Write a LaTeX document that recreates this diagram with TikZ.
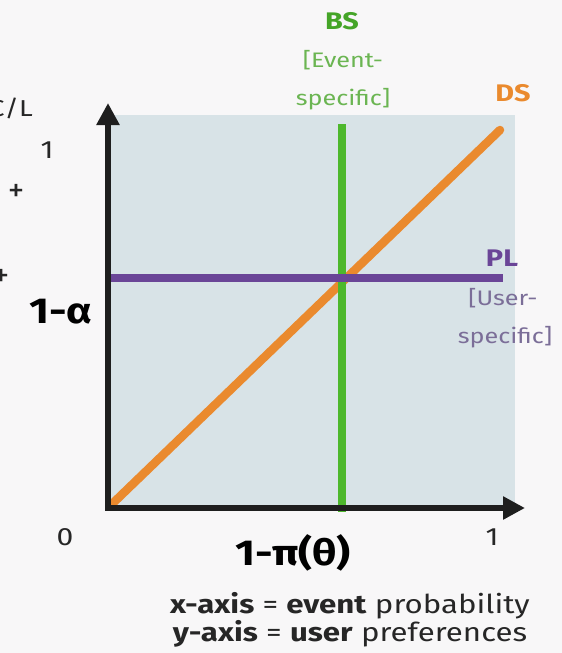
\documentclass[tikz,border=0pt]{standalone}
\usepackage{fontspec}
\setmainfont{Fira Sans}[FakeStretch=1.2]
\usepackage{xcolor}
\usetikzlibrary{arrows.meta}

\definecolor{pagebg}{HTML}{F8F7F8}
\definecolor{plotbg}{HTML}{D8E3E7}
\definecolor{dsorange}{HTML}{EA8A2E}
\definecolor{bsgreen}{HTML}{4DB82C}
\definecolor{bstext}{HTML}{6BB552}
\definecolor{plpurple}{HTML}{6A4597}
\definecolor{pltext}{HTML}{7B6E98}
\definecolor{axisblack}{HTML}{1E1E1E}

\tikzset{
  axisline/.style={draw=axisblack,line width=5.5pt,line join=miter,
    {Triangle[width=22pt,length=22pt]}-{Triangle[width=22pt,length=22pt]}},
  curveline/.style={line width=8.5pt},
  ticklabel/.style={text=black!85,font=\fontsize{25}{28}\selectfont},
  pluslabel/.style={text=black!85,font=\fontsize{33}{36}\selectfont\addfontfeature{FakeStretch=1},inner sep=0pt},
  biglabel/.style={text=black,font=\fontsize{36}{40}\selectfont\bfseries},
  tag/.style={font=\fontsize{21}{25}\selectfont,inner sep=0pt,align=center},
  tagbold/.style={tag,font=\fontsize{24}{28}\selectfont\bfseries}
}

\begin{document}
\begin{tikzpicture}[x=1pt,y=-1pt]
  \fill[pagebg] (0,0) rectangle (562,653);
  \useasboundingbox (0,0) rectangle (562,653);
  \fill[plotbg] (108,115) rectangle (515,508);

  \coordinate (O) at (108,508);
  \coordinate (ytip) at (108,103);
  \coordinate (xtip) at (525,508);
  \coordinate (dsA) at (111,505);
  \coordinate (dsB) at (500,130);
  \coordinate (bsA) at (342,124);
  \coordinate (bsB) at (342,512);
  \coordinate (plA) at (108,278);
  \coordinate (plB) at (503,278);

  \draw[curveline,dsorange,line cap=round] (dsA) -- (dsB);
  \draw[curveline,bsgreen] (bsA) -- (bsB);
  \draw[curveline,plpurple] (plA) -- (plB);
  \draw[axisline] (ytip) -- (O) -- (xtip);

  \node[tagbold,text=bsgreen!90!black] (bs) at (342,21) {BS};
  \node[tag,text=bstext] (bsev) at (343,60) {[Event-};
  \node[tag,text=bstext] (bssp) at (343,99) {specific]};
  \node[tagbold,text=dsorange] (ds) at (513,93) {DS};
  \node[tagbold,text=plpurple] (pl) at (502,258) {PL};
  \node[tag,text=pltext] (plus) at (503,298) {[User-};
  \node[tag,text=pltext] (plsp) at (505,337) {specific]};

  \node[ticklabel,anchor=east,font=\fontsize{23}{26}\selectfont,inner sep=0pt] (cl) at (33,108) {C/L};
  \node[ticklabel] (yone) at (47,150) {1};
  \node[pluslabel] (pa) at (16,193) {+};
  \node[pluslabel] (pb) at (1,278) {+};
  \node[biglabel] (alpha) at (61,312) {1-α};
  \node[ticklabel] (zero) at (65,537) {0};
  \node[ticklabel] (xone) at (492,537) {1};
  \node[biglabel] (pi) at (293,553) {1-π(θ)};
  \node[ticklabel,align=center,font=\fontsize{26}{23}\selectfont] (note) at (350,620)
    {\textbf{x-axis} = \textbf{event} probability\\\textbf{y-axis} = \textbf{user} preferences};
\end{tikzpicture}
\end{document}
